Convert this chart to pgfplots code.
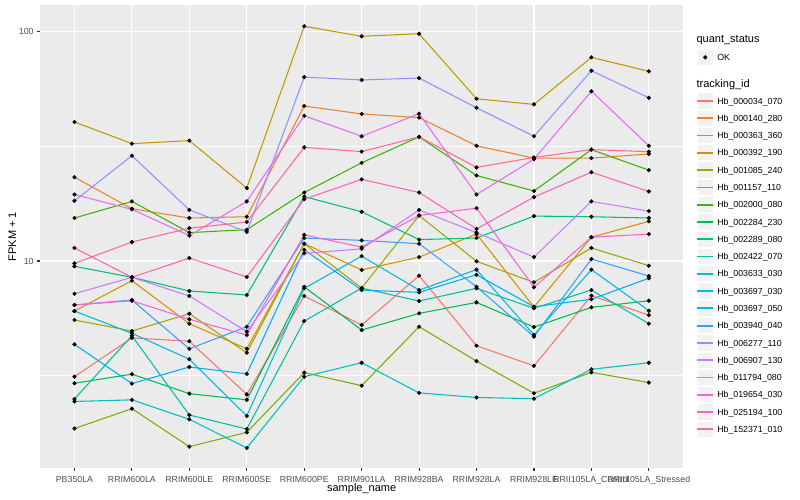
\documentclass[border=0pt]{standalone}
\usepackage{fontspec}
\setmainfont{Liberation Sans}
\usepackage{pgfplots}
\usepackage{pgfplotstable}
\pgfplotsset{compat=1.18}

\definecolor{panel}{HTML}{EBEBEB}
\definecolor{keybg}{HTML}{F2F2F2}
\definecolor{gray30}{HTML}{4D4D4D}
\definecolor{gray20}{HTML}{333333}
% ggplot hue palette, 20 levels
\definecolor{c1}{HTML}{F8766D}
\definecolor{c2}{HTML}{EA8331}
\definecolor{c3}{HTML}{D89000}
\definecolor{c4}{HTML}{C09B00}
\definecolor{c5}{HTML}{A3A500}
\definecolor{c6}{HTML}{7CAE00}
\definecolor{c7}{HTML}{39B600}
\definecolor{c8}{HTML}{00BB4E}
\definecolor{c9}{HTML}{00BF7D}
\definecolor{c10}{HTML}{00C1A3}
\definecolor{c11}{HTML}{00BFC4}
\definecolor{c12}{HTML}{00BAE0}
\definecolor{c13}{HTML}{00B0F6}
\definecolor{c14}{HTML}{35A2FF}
\definecolor{c15}{HTML}{9590FF}
\definecolor{c16}{HTML}{C77CFF}
\definecolor{c17}{HTML}{E76BF3}
\definecolor{c18}{HTML}{FA62DB}
\definecolor{c19}{HTML}{FF62BC}
\definecolor{c20}{HTML}{FF6C91}

\newcommand\smallfont{\fontsize{8.8pt}{10pt}\selectfont}
\newcommand\titlefont{\fontsize{11pt}{13pt}\selectfont}

% FPKM + 1, one row per sample, one column per tracking_id
\pgfplotstableread{
x  s1   s2   s3   s4    s5   s6   s7   s8   s9   s10  s11  s12  s13  s14  s15  s16  s17  s18  s19  s20
1  3.13 23.2 6.05 40.4  5.53 1.86 15.4 2.93 9.48 2.50 2.44 6.05 4.33 6.43 18.3 7.20 19.5 6.43 11.4 9.77
2  4.62 16.9 8.21 32.5  4.95 2.27 18.2 3.21 8.49 4.72 2.48 4.84 2.92 6.76 28.8 8.49 16.8 6.71 8.49 12.1
3  4.47 15.4 5.33 33.5  5.89 1.55 13.3 2.64 7.40 2.13 2.04 3.73 3.45 4.14 16.7 7.04 12.9 5.57 10.3 13.9
4  2.62 15.6 4.14 20.8  3.98 1.79 13.7 2.48 7.11 1.85 1.53 2.11 3.22 5.17 13.4 4.92 18.2 4.76 8.52 14.8
5  7.04 47.4 11.9 105.6 11.9 3.26 19.9 7.72 19.1 5.47 3.13 7.60 11.2 12.6 63.4 10.8 43.0 13.0 18.6 31.3
6  5.26 43.8 9.14 95.5  7.62 2.86 26.8 5.00 16.4 7.62 3.60 10.5 7.47 12.3 61.6 11.3 35.0 11.5 22.7 30.0
7  8.63 42.2 10.4 98.0  15.8 5.17 34.8 5.91 12.4 6.69 2.66 7.47 7.30 11.9 62.8 16.7 43.9 15.8 19.9 34.8
8  4.27 31.8 13.1 51.0  9.97 3.66 23.6 6.60 12.6 7.60 2.54 9.17 8.71 7.72 46.6 13.3 19.5 17.0 13.8 25.6
9  3.49 28.1 6.30 48.2  8.07 2.65 20.2 5.15 15.7 6.22 2.51 4.76 6.32 4.68 35.0 10.4 27.8 7.68 19.0 28.3
10 7.06 28.1 12.7 77.3  11.4 3.27 30.6 6.28 15.6 7.47 3.37 9.17 6.81 10.2 67.6 18.2 55.0 12.7 24.4 30.6
11 5.81 29.3 14.9 67.2  9.54 2.95 24.9 6.71 15.4 5.33 3.60 6.07 8.41 8.60 51.5 16.5 31.8 13.1 20.1 30.0
}\fpkm

\begin{document}
\begin{tikzpicture}
\useasboundingbox (-40pt,-32pt) rectangle (760pt,468pt);
\begin{axis}[
  at={(0pt,0pt)}, anchor=south west,
  scale only axis, width=643.3pt, height=463pt,
  xmin=0.4, xmax=11.6,
  ymode=log, ymin=1.251, ymax=130.8,
  axis background/.style={fill=panel},
  axis line style={draw=none},
  xtick={1,...,11},
  xticklabels={PB350LA,RRIM600LA,RRIM600LE,RRIM600SE,RRIM600PE,RRIM901LA,RRIM928BA,RRIM928LA,RRIM928LE,RRII105LA\_Control,RRII105LA\_Stressed},
  ytick={10,100}, yticklabels={10,100},
  minor ytick={3.1623,31.623},
  grid=both,
  major grid style={white, line width=1.07pt},
  minor grid style={white, line width=0.53pt},
  tick pos=left, tick align=outside,
  major tick length=2.75pt, minor tick length=0pt,
  tick style={color=gray20, line width=1.07pt},
  /pgf/number format/assume math mode=true,
  xticklabel style={font=\smallfont, text=gray30, anchor=base, inner sep=0pt, yshift=-11.5pt},
  yticklabel style={font=\smallfont, text=gray30, anchor=east, inner sep=0pt, xshift=-3.5pt},
  xlabel={sample\_name},
  xlabel style={font=\titlefont, at={(axis description cs:0.5,0)}, anchor=base, inner sep=0pt, yshift=-23.8pt},
  ylabel={FPKM + 1},
  ylabel style={font=\titlefont, at={(axis description cs:-0.0370,0.5)}, anchor=base, inner sep=0pt},
  legend style={
    at={(axis description cs:1.02005,0.9378)}, anchor=north west,
    draw=none, fill=none, inner sep=0pt, outer sep=0pt,
    row sep=0pt, column sep=3pt,
    font=\smallfont,
    cells={anchor=base west},
    nodes={inner sep=0pt, text depth=0pt},
  },
  legend image code/.code={%
    \fill[keybg, draw=white, line width=1pt] (0.5pt,-5pt) rectangle (16.78pt,11.28pt);
    \draw[#1, line width=1.8pt] (0.5pt,3.14pt) -- (16.78pt,3.14pt);},
  quanttitle/.style={legend image code/.code={%
    \path[draw=none, fill=none] (0pt,-5.9pt) rectangle (17.28pt,9pt);
    \node[overlay, draw=none, fill=none, anchor=base west, inner sep=0pt, font=\titlefont, text=black] at (0pt,0pt) {quant\_status};}},
  okkey/.style={legend image code/.code={%
    \fill[keybg, draw=white, line width=1pt] (0.5pt,-5pt) rectangle (16.78pt,11.28pt);
    \draw[black, only marks, mark=*, mark size=1.9pt] plot coordinates {(8.64pt,3.14pt)};}},
  tracktitle/.style={legend image code/.code={%
    \path[draw=none, fill=none] (0pt,-5.1pt) rectangle (17.28pt,21.3pt);
    \node[overlay, draw=none, fill=none, anchor=base west, inner sep=0pt, font=\titlefont, text=black] at (0pt,0pt) {tracking\_id};}},
]

% legend block for quant_status
\addlegendimage{quanttitle}
\addlegendentry{}
\addlegendimage{okkey}
\addlegendentry{OK}
\addlegendimage{tracktitle}
\addlegendentry{}

% lines
\addplot[color=c1,  line width=1.07pt, mark=none, line join=round] table[x=x,y=s1]  {\fpkm}; \addlegendentry{Hb\_000034\_070}
\addplot[color=c2,  line width=1.07pt, mark=none, line join=round] table[x=x,y=s2]  {\fpkm}; \addlegendentry{Hb\_000140\_280}
\addplot[color=c3,  line width=1.07pt, mark=none, line join=round] table[x=x,y=s3]  {\fpkm}; \addlegendentry{Hb\_000363\_360}
\addplot[color=c4,  line width=1.07pt, mark=none, line join=round] table[x=x,y=s4]  {\fpkm}; \addlegendentry{Hb\_000392\_190}
\addplot[color=c5,  line width=1.07pt, mark=none, line join=round] table[x=x,y=s5]  {\fpkm}; \addlegendentry{Hb\_001085\_240}
\addplot[color=c6,  line width=1.07pt, mark=none, line join=round] table[x=x,y=s6]  {\fpkm}; \addlegendentry{Hb\_001157\_110}
\addplot[color=c7,  line width=1.07pt, mark=none, line join=round] table[x=x,y=s7]  {\fpkm}; \addlegendentry{Hb\_002000\_080}
\addplot[color=c8,  line width=1.07pt, mark=none, line join=round] table[x=x,y=s8]  {\fpkm}; \addlegendentry{Hb\_002284\_230}
\addplot[color=c9,  line width=1.07pt, mark=none, line join=round] table[x=x,y=s9]  {\fpkm}; \addlegendentry{Hb\_002289\_080}
\addplot[color=c10, line width=1.07pt, mark=none, line join=round] table[x=x,y=s10] {\fpkm}; \addlegendentry{Hb\_002422\_070}
\addplot[color=c11, line width=1.07pt, mark=none, line join=round] table[x=x,y=s11] {\fpkm}; \addlegendentry{Hb\_003633\_030}
\addplot[color=c12, line width=1.07pt, mark=none, line join=round] table[x=x,y=s12] {\fpkm}; \addlegendentry{Hb\_003697\_030}
\addplot[color=c13, line width=1.07pt, mark=none, line join=round] table[x=x,y=s13] {\fpkm}; \addlegendentry{Hb\_003697\_050}
\addplot[color=c14, line width=1.07pt, mark=none, line join=round] table[x=x,y=s14] {\fpkm}; \addlegendentry{Hb\_003940\_040}
\addplot[color=c15, line width=1.07pt, mark=none, line join=round] table[x=x,y=s15] {\fpkm}; \addlegendentry{Hb\_006277\_110}
\addplot[color=c16, line width=1.07pt, mark=none, line join=round] table[x=x,y=s16] {\fpkm}; \addlegendentry{Hb\_006907\_130}
\addplot[color=c17, line width=1.07pt, mark=none, line join=round] table[x=x,y=s17] {\fpkm}; \addlegendentry{Hb\_011794\_080}
\addplot[color=c18, line width=1.07pt, mark=none, line join=round] table[x=x,y=s18] {\fpkm}; \addlegendentry{Hb\_019654\_030}
\addplot[color=c19, line width=1.07pt, mark=none, line join=round] table[x=x,y=s19] {\fpkm}; \addlegendentry{Hb\_025194\_100}
\addplot[color=c20, line width=1.07pt, mark=none, line join=round] table[x=x,y=s20] {\fpkm}; \addlegendentry{Hb\_152371\_010}

% points on top of every line
\pgfplotsinvokeforeach{1,...,20}{
  \addplot[only marks, mark=*, mark size=1.9pt, black, forget plot] table[x=x,y=s#1] {\fpkm};
}
\end{axis}
\end{tikzpicture}
\end{document}
